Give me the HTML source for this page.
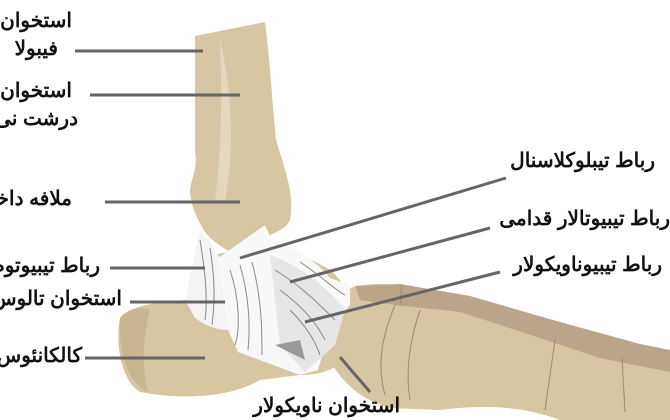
<!DOCTYPE html>
<html><head><meta charset="utf-8"><style>
body{margin:0;background:#fff;width:670px;height:420px;overflow:hidden;position:relative;font-family:"Liberation Sans","Noto Sans CJK SC",sans-serif}
.t{position:absolute;direction:rtl;white-space:nowrap;font-size:20px;font-weight:bold;color:#111;line-height:22px}
svg{position:absolute;left:0;top:0}
</style></head><body>
<svg width="670" height="420" viewBox="0 0 670 420">
<!-- foot -->
<path d="M330 300 C345 285 370 282 400 285 L480 300 L560 325 L640 345 L670 352 L670 420 L560 420 C520 405 480 405 440 410 L390 408 C360 400 340 380 330 360 Z" fill="#d6c6a2"/>
<path d="M355 286 L400 284 L470 296 L560 322 L640 344 L670 350 L670 372 L600 358 L540 338 L460 312 L395 305 L360 300 Z" fill="#bba588"/>
<g stroke="#9c8a6c" stroke-width="1" fill="none">
<path d="M395 305 C385 330 375 360 385 395"/><path d="M420 310 C410 340 405 370 410 400"/>
<path d="M555 340 L545 410"/><path d="M622 358 L625 412"/><path d="M402 285 L400 305"/>
</g>
<!-- tibia column -->
<path d="M195 36 L265 22 C270 60 272 100 276 140 C285 170 295 195 290 220 C285 232 270 232 265 240 L250 262 C235 255 215 245 205 232 C198 220 190 205 190 190 C192 175 198 168 195 150 Z" fill="#d6c6a2"/>
<path d="M220 40 C232 90 235 150 225 200 L215 200 C222 150 222 90 220 40Z" fill="#e4d8bc"/>
<!-- talus/calcaneus -->
<path d="M200 260 C250 240 300 250 330 270 C350 285 360 320 350 350 C340 370 320 375 300 375 L260 380 C230 398 180 400 140 392 C120 380 115 340 120 318 C130 305 160 302 185 300 C195 290 195 272 200 260 Z" fill="#d6c6a2"/>
<path d="M120 318 C125 310 140 306 150 310 C145 330 140 360 148 392 C128 385 118 350 120 318Z" fill="#c8b690"/>
<!-- ligaments -->
<path d="M185 300 C190 280 195 250 200 232 C210 240 215 250 222 262 L228 330 C215 330 205 325 195 318 Z" fill="#f4f4f4"/>
<path d="M218 258 L265 225 L272 240 C300 250 320 265 330 278 L350 285 L350 305 L330 330 L318 370 L300 375 L238 352 L228 330 Z" fill="#f8f8f8"/>
<path d="M270 255 C300 265 330 290 345 310 L335 345 L305 372 L280 345 Z" fill="#e6e6e6"/>
<g stroke="#8a8a8a" stroke-width="1" fill="none">
<path d="M230 270 C240 300 240 330 235 345"/><path d="M240 265 C250 300 250 330 248 350"/><path d="M252 262 C262 300 262 330 262 355"/>
<path d="M200 240 C205 270 208 300 205 320"/><path d="M210 248 C215 280 215 300 212 325"/>
<path d="M275 270 C300 285 320 305 335 320"/><path d="M280 290 C300 305 315 320 325 340"/><path d="M290 310 C305 325 315 340 320 355"/>
<path d="M300 262 C320 275 335 290 345 295"/>
</g>
<path d="M275 345 L300 340 L305 360 Z" fill="#9a9a9a"/>
<!-- leader lines -->
<g stroke="#666" stroke-width="3">
<line x1="75" y1="51" x2="203" y2="51"/>
<line x1="90" y1="95" x2="240" y2="95"/>
<line x1="105" y1="202" x2="240" y2="202"/>
<line x1="110" y1="268" x2="205" y2="268"/>
<line x1="130" y1="302" x2="225" y2="302"/>
<line x1="85" y1="358" x2="205" y2="358"/>
<line x1="340" y1="357" x2="370" y2="392"/>
<line x1="506" y1="178" x2="240" y2="258"/>
<line x1="490" y1="228" x2="290" y2="282"/>
<line x1="500" y1="272" x2="305" y2="322"/>
</g>
</svg>
<div class="t" style="right:598px;top:10px">استخوان</div>
<div class="t" style="right:612px;top:38px">فیبولا</div>
<div class="t" style="right:598px;top:80px">استخوان</div>
<div class="t" style="right:592px;top:108px">درشت نی</div>
<div class="t" style="right:598px;top:188px">ملافه داخلی</div>
<div class="t" style="right:570px;top:255px">رباط تیبیوتوم</div>
<div class="t" style="right:548px;top:288px">استخوان تالوس</div>
<div class="t" style="right:588px;top:345px">کالکانئوس</div>
<div class="t" style="right:270px;top:395px">استخوان ناویکولار</div>
<div class="t" style="right:15px;top:150px">رباط تیبلوکلاسنال</div>
<div class="t" style="right:0px;top:208px">رباط تیبیوتالار قدامی</div>
<div class="t" style="right:8px;top:254px">رباط تیبیوناویکولار</div>
</body></html>
